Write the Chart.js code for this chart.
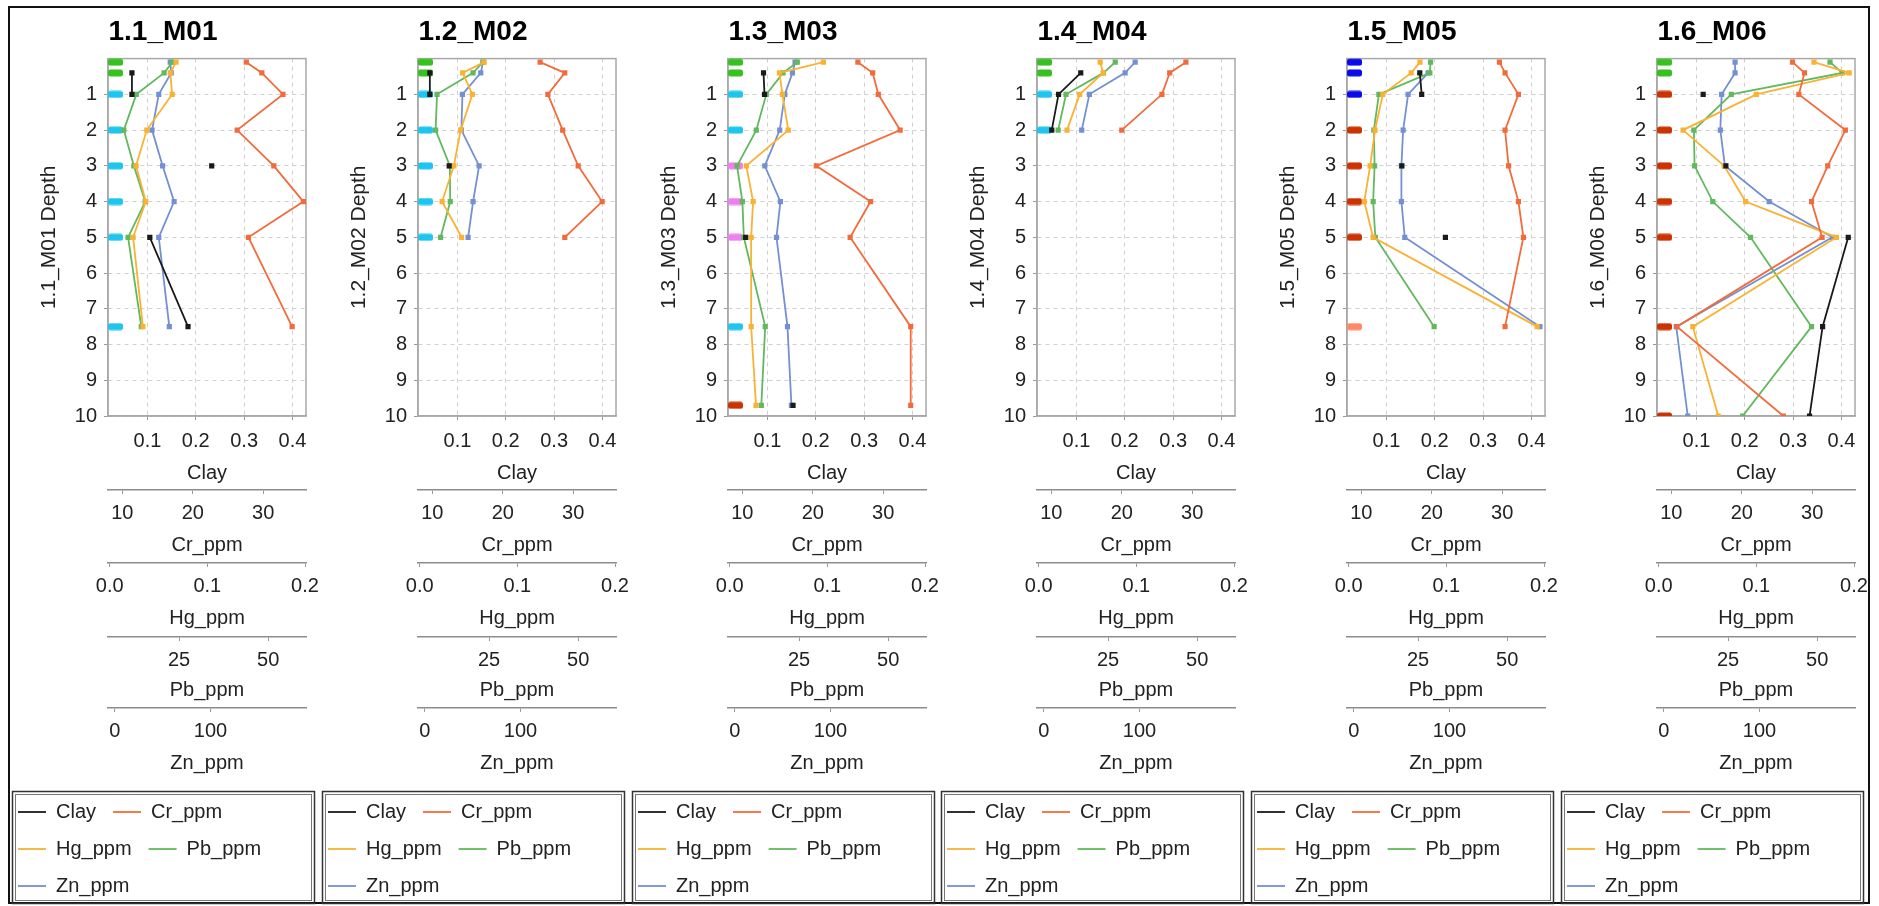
<!DOCTYPE html>
<html>
<head>
<meta charset="utf-8">
<title>Profiles</title>
<script src="https://cdn.jsdelivr.net/npm/chart.js@4.4.1/dist/chart.umd.min.js"></script>
<style>
  html, body { margin: 0; padding: 0; background: #fff; overflow: hidden; }
  #wrap { position: relative; width: 1879px; height: 906px; }
  #frame { position: absolute; left: 8px; top: 6px; width: 1858px; height: 894px; border: 2px solid #111; }
  canvas.panel { position: absolute; top: 0; }
</style>
</head>
<body>
<div id="wrap"><div id="frame"></div></div>
<script>
// profiles (one chart per profile)
const panelNames = ['1.1_M01', '1.2_M02', '1.3_M03', '1.4_M04', '1.5_M05', '1.6_M06'];
const seriesNames = ['Clay', 'Cr_ppm', 'Hg_ppm', 'Pb_ppm', 'Zn_ppm'];

// sample depths for each profile
const depths = [
  [0.1, 0.4, 1, 2, 3, 4, 5, 7.5],
  [0.1, 0.4, 1, 2, 3, 4, 5],
  [0.1, 0.4, 1, 2, 3, 4, 5, 7.5, 9.7],
  [0.1, 0.4, 1, 2],
  [0.1, 0.4, 1, 2, 3, 4, 5, 7.5],
  [0.1, 0.4, 1, 2, 3, 4, 5, 7.5, 10]
];

const clay = [
  [null, 0.068, 0.068, null, 0.233, null, 0.105, 0.184],
  [null, 0.043, 0.043, null, 0.083, null, null],
  [null, 0.092, 0.094, null, null, null, 0.055, null, 0.153],
  [null, 0.109, 0.063, 0.049],
  [null, 0.169, 0.173, null, 0.132, null, 0.222, null],
  [null, null, 0.114, null, 0.161, null, 0.414, 0.361, 0.334]
];
const crPpm = [
  [27.6, 29.8, 32.8, 26.3, 31.5, 35.7, 27.9, 34.1],
  [25.3, 28.8, 26.4, 28.5, 30.7, 34.1, 28.8],
  [26.4, 28.5, 29.3, 32.4, 20.5, 28.2, 25.3, 33.9, 33.9],
  [29.1, 26.8, 25.7, 20.0],
  [29.6, 30.4, 32.3, 30.4, 30.9, 32.3, 33.0, 30.4],
  [27.2, 28.9, 28.1, 34.7, 32.2, 29.9, 31.4, 10.8, 25.9]
];
const hgPpm = [
  [0.068, 0.062, 0.064, 0.038, 0.027, 0.037, 0.024, 0.034],
  [0.066, 0.044, 0.054, 0.042, 0.035, 0.023, 0.043],
  [0.096, 0.051, 0.054, 0.060, 0.017, 0.024, 0.022, 0.022, 0.027],
  [0.063, 0.066, 0.042, 0.029],
  [0.073, 0.064, 0.035, 0.027, 0.022, 0.016, 0.025, 0.193],
  [0.159, 0.195, 0.100, 0.025, 0.067, 0.089, 0.182, 0.035, 0.061]
];
const pbPpm = [
  [23.1, 20.8, 13.0, 9.5, 12.3, 15.5, 10.7, 14.4],
  [23.3, 20.5, 10.4, 10.0, 14.0, 14.1, 11.4],
  [24.5, 20.5, 15.8, 13.0, 7.6, 9.1, 9.5, 15.5, 14.4],
  [27.0, 23.7, 13.2, 11.0],
  [28.5, 28.3, 14.0, 12.6, 12.8, 12.4, 13.0, 29.5],
  [53.6, 57.0, 25.9, 15.4, 15.6, 20.7, 31.3, 48.4, 29.1]
];
const znPpm = [
  [58, 59, 46, 39, 50, 62, 46, 57],
  [61, 58.5, 39.4, 38.3, 56.8, 50.5, 45.3],
  [63, 60.3, 52.3, 47.0, 31.4, 47.7, 43.6, 55.1, 59.2],
  [95.5, 85.0, 47.7, 39.7],
  [null, 77.7, 56.8, 51.6, 49.8, 49.8, 53.3, 194.4],
  [74.5, 74.5, 60.5, 59.1, 63.9, 110.1, 176.1, 13.1, 25.1]
];

// horizon class of each sample (coloured marks at the left edge)
const horizons = [
  ['A', 'A', 'B', 'B', 'B', 'B', 'B', 'B'],
  ['A', 'A', 'B', 'B', 'B', 'B', 'B'],
  ['A', 'A', 'B', 'B', 'C', 'C', 'C', 'B', 'D'],
  ['A', 'A', 'B', 'B'],
  ['E', 'E', 'E', 'D', 'D', 'D', 'D', 'F'],
  ['A', 'A', 'D', 'D', 'D', 'D', 'D', 'D', 'D']
];

// axes
const depthTicks = [1, 2, 3, 4, 5, 6, 7, 8, 9, 10];
const clayTicks = [0.1, 0.2, 0.3, 0.4];
const crTicks = [10, 20, 30];
const hgTicks = [0, 0.1, 0.2];
const pbTicks = [25, 50];
const znTicks = [0, 100];
const clayRange = [0.0185, 0.428];
const crRange = [7.96, 36.07];
const hgRange = [-0.0017, 0.201];
const pbRange = [5.06, 60.6];
const znRange = [-7.0, 199.7];

const seriesColors = ['#1a1a1a', '#f26b3c', '#f9b234', '#62b85e', '#7490d2'];
const horizonColors = { A: '#35c21f', B: '#1ec6ef', C: '#f07ef0', D: '#cc3300', E: '#0b0bea', F: '#ff8866' };

Chart.defaults.font.family = '"Liberation Sans", Arial, sans-serif';

function barImage(color) {
  // left half transparent so the mark starts at the plot edge
  const c = document.createElement('canvas');
  c.width = 32; c.height = 8;
  const g = c.getContext('2d');
  g.fillStyle = color;
  g.beginPath();
  if (g.roundRect) g.roundRect(16, 0.5, 15, 7, 2.5); else g.rect(16, 0.5, 15, 7);
  g.fill();
  return c;
}

const plotFrame = {
  id: 'plotFrame',
  beforeDatasetsDraw(chart) {
    const a = chart.chartArea, ctx = chart.ctx;
    ctx.save();
    ctx.strokeStyle = '#a8a8a8';
    ctx.lineWidth = 1.5;
    ctx.strokeRect(a.left, a.top, a.right - a.left, a.bottom - a.top);
    ctx.restore();
  }
};

const legendFrame = {
  id: 'legendFrame',
  afterDraw(chart) {
    const L = chart.legend, ctx = chart.ctx;
    ctx.save();
    ctx.strokeStyle = '#333';
    ctx.lineWidth = 1.5;
    ctx.strokeRect(L.left + 11.5, L.top + 6.5, 302, 112);
    ctx.strokeStyle = '#777';
    ctx.lineWidth = 1;
    ctx.strokeRect(L.left + 14.5, L.top + 9.5, 296, 106);
    ctx.restore();
  }
};

function xAxis(range, ticks, title, weight, height, titlePad, fmt, isMain) {
  return {
    type: 'linear', axis: 'x', position: 'bottom', weight: weight,
    min: range[0], max: range[1],
    afterBuildTicks: s => { s.ticks = ticks.map(v => ({ value: v })); },
    afterFit: s => { s.height = height; s.paddingLeft = 0; s.paddingRight = 0; },
    ticks: { font: { size: 20 }, color: '#222', padding: isMain ? 9 : 7, callback: fmt, maxRotation: 0, autoSkip: false },
    grid: { display: true, drawOnChartArea: isMain, color: '#d0d0d0', tickColor: '#999', tickLength: 4 },
    border: { color: isMain ? '#a8a8a8' : '#8c8c8c', width: 1.5, dash: [4, 4] },
    title: { display: true, text: title, font: { size: 20 }, color: '#222', padding: { top: 0, bottom: titlePad } }
  };
}

const seriesValues = [clay, crPpm, hgPpm, pbPpm, znPpm];
const axisIds = ['xClay', 'xCr', 'xHg', 'xPb', 'xZn'];

panelNames.forEach((name, p) => {
  const canvas = document.createElement('canvas');
  canvas.className = 'panel';
  canvas.width = 324;
  canvas.height = 906;
  canvas.style.left = Math.round(1 + 309.8 * p) + 'px';
  document.getElementById('wrap').appendChild(canvas);

  const datasets = seriesNames.map((s, k) => ({
    label: s,
    data: depths[p].map((d, j) => ({ x: seriesValues[k][p][j], y: d })),
    xAxisID: axisIds[k],
    yAxisID: 'y',
    borderColor: seriesColors[k],
    backgroundColor: seriesColors[k],
    borderWidth: 1.8,
    pointStyle: 'rect',
    pointRadius: 2.4,
    pointBorderWidth: 1.8,
    spanGaps: false,
    tension: 0
  }));
  datasets.push({
    label: 'horizon',
    data: depths[p].map(d => ({ x: clayRange[0], y: d })),
    xAxisID: 'xClay',
    yAxisID: 'y',
    showLine: false,
    pointStyle: horizons[p].map(h => barImage(horizonColors[h])),
    pointRadius: 5,
    borderWidth: 0
  });

  new Chart(canvas, {
    type: 'line',
    data: { datasets: datasets },
    options: {
      responsive: false,
      animation: false,
      layout: { padding: 0 },
      plugins: {
        title: {
          display: true, text: name, color: '#000',
          font: { size: 28, weight: 'bold' },
          padding: { top: 15, bottom: 10 }
        },
        legend: {
          position: 'bottom', align: 'start',
          labels: {
            usePointStyle: true, pointStyle: 'line', pointStyleWidth: 28,
            padding: 17, color: '#222', font: { size: 20 },
            filter: item => item.datasetIndex < seriesNames.length
          }
        },
        tooltip: { enabled: false }
      },
      scales: {
        y: {
          type: 'linear', position: 'left', reverse: true, min: 0, max: 10,
          afterBuildTicks: s => { s.ticks = depthTicks.map(v => ({ value: v })); },
          afterFit: s => { s.width = 107; s.paddingTop = 0; s.paddingBottom = 0; },
          ticks: { font: { size: 20 }, color: '#222', padding: 7, callback: v => String(v) },
          grid: { color: '#d0d0d0', tickColor: '#999', tickLength: 4 },
          border: { color: '#a8a8a8', width: 1.5, dash: [4, 4] },
          title: { display: true, text: name + ' Depth', font: { size: 21 }, color: '#222', padding: { top: 36, bottom: 0 } }
        },
        yRight: {
          type: 'linear', position: 'right', display: true,
          afterFit: s => { s.width = 19; },
          ticks: { display: false },
          grid: { display: false, drawTicks: false },
          border: { display: false }
        },
        xClay: xAxis(clayRange, clayTicks, 'Clay', 0, 74, 5, v => v.toFixed(1), true),
        xCr: xAxis(crRange, crTicks, 'Cr_ppm', 1, 73, 6, v => String(v), false),
        xHg: xAxis(hgRange, hgTicks, 'Hg_ppm', 2, 74, 7, v => v.toFixed(1), false),
        xPb: xAxis(pbRange, pbTicks, 'Pb_ppm', 3, 71, 6, v => String(v), false),
        xZn: xAxis(znRange, znTicks, 'Zn_ppm', 4, 77, 10, v => String(v), false)
      }
    },
    plugins: [plotFrame, legendFrame]
  });
});
</script>
</body>
</html>
